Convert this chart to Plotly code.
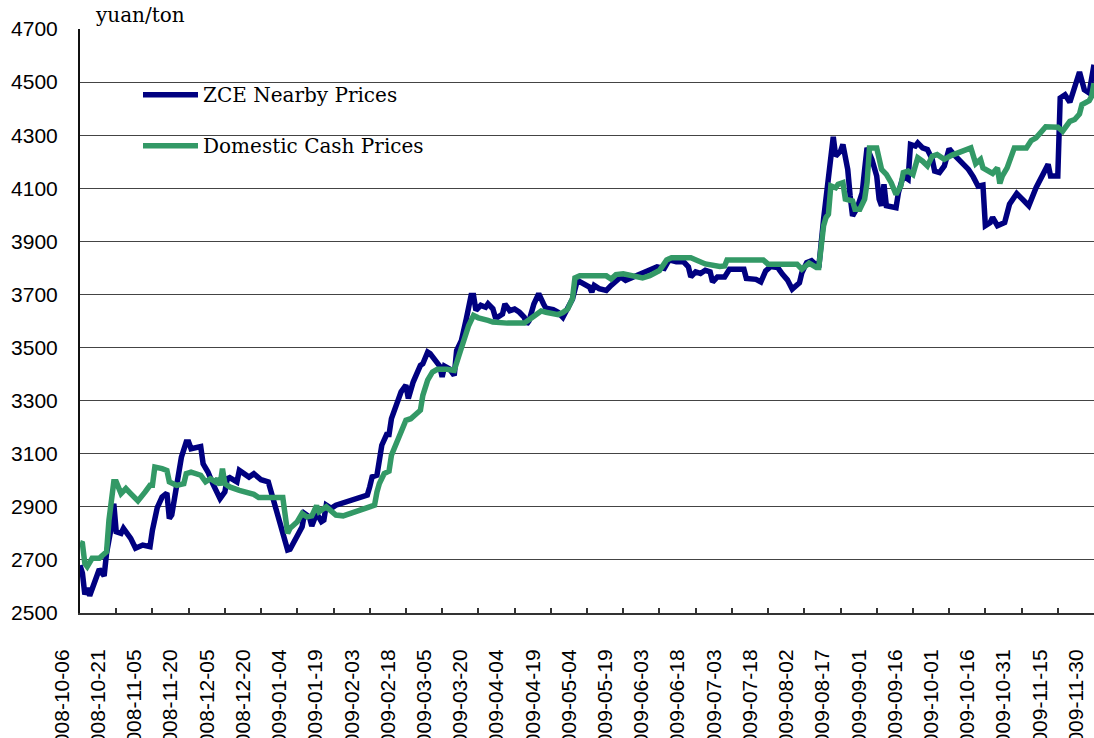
import plotly.graph_objects as go

# ZCE nearby prices (yuan/ton)
zce_dates = [
    "2008-10-06","2008-10-07","2008-10-08","2008-10-09","2008-10-10","2008-10-13","2008-10-14","2008-10-16",
    "2008-10-17","2008-10-19","2008-10-20","2008-10-21","2008-10-23","2008-10-24","2008-10-27","2008-10-29",
    "2008-11-01","2008-11-04","2008-11-05","2008-11-07","2008-11-09","2008-11-11","2008-11-12","2008-11-13",
    "2008-11-15","2008-11-17","2008-11-19","2008-11-20","2008-11-21","2008-11-25","2008-11-26","2008-11-28",
    "2008-11-30","2008-12-02","2008-12-03","2008-12-05","2008-12-06","2008-12-07","2008-12-10","2008-12-11",
    "2008-12-13","2008-12-15","2008-12-17","2008-12-20","2008-12-23","2008-12-24","2008-12-25","2008-12-27",
    "2008-12-29","2008-12-31","2009-01-01","2009-01-03","2009-01-06","2009-01-07","2009-01-09","2009-01-10",
    "2009-01-12","2009-01-14","2009-01-15","2009-01-16","2009-01-18","2009-01-20","2009-01-22","2009-01-23",
    "2009-02-02","2009-02-03","2009-02-04","2009-02-06","2009-02-07","2009-02-08","2009-02-10","2009-02-11",
    "2009-02-12","2009-02-14","2009-02-16","2009-02-18","2009-02-19","2009-02-21","2009-02-24","2009-02-25",
    "2009-02-27","2009-02-28","2009-03-02","2009-03-04","2009-03-05","2009-03-06","2009-03-08","2009-03-10",
    "2009-03-11","2009-03-13","2009-03-15","2009-03-17","2009-03-18","2009-03-19","2009-03-21","2009-03-23",
    "2009-03-24","2009-03-26","2009-03-27","2009-03-28","2009-03-30","2009-03-31","2009-04-02","2009-04-04",
    "2009-04-06","2009-04-08","2009-04-09","2009-04-10","2009-04-12","2009-04-14","2009-04-16","2009-04-17",
    "2009-04-20","2009-04-22","2009-04-24","2009-04-26","2009-04-28","2009-04-30","2009-05-03","2009-05-05",
    "2009-05-06","2009-05-07","2009-05-09","2009-05-12","2009-05-14","2009-05-16","2009-05-18","2009-05-20",
    "2009-05-23","2009-05-27","2009-05-30","2009-06-02","2009-06-05","2009-06-07","2009-06-10","2009-06-13",
    "2009-06-15","2009-06-16","2009-06-18","2009-06-20","2009-06-22","2009-06-24","2009-06-25","2009-06-27",
    "2009-06-30","2009-07-02","2009-07-05","2009-07-08","2009-07-09","2009-07-13","2009-07-15","2009-07-17",
    "2009-07-19","2009-07-22","2009-07-24","2009-07-26","2009-07-28","2009-07-31","2009-08-01","2009-08-03",
    "2009-08-05","2009-08-08","2009-08-10","2009-08-12","2009-08-14","2009-08-15","2009-08-17","2009-08-18",
    "2009-08-20","2009-08-21","2009-08-22","2009-08-24","2009-08-26","2009-08-27","2009-08-28","2009-08-30",
    "2009-09-01","2009-09-02","2009-09-03","2009-09-04","2009-09-05","2009-09-09","2009-09-10","2009-09-12",
    "2009-09-14","2009-09-15","2009-09-17","2009-09-18","2009-09-20","2009-09-22","2009-09-24","2009-09-25",
    "2009-09-27","2009-09-29","2009-10-01","2009-10-03","2009-10-06","2009-10-09","2009-10-11","2009-10-13",
    "2009-10-15","2009-10-16","2009-10-18","2009-10-19","2009-10-21","2009-10-24","2009-10-26","2009-10-29",
    "2009-10-31","2009-11-03","2009-11-06","2009-11-08","2009-11-11","2009-11-12","2009-11-15","2009-11-16",
    "2009-11-18","2009-11-20","2009-11-22","2009-11-24","2009-11-26","2009-11-28","2009-11-30",
]
zce_prices = [
    2680, 2650, 2570, 2594, 2565, 2637, 2665, 2640,
    2725, 2825, 2912, 2806, 2800, 2819, 2781, 2744,
    2756, 2750, 2812, 2897, 2937, 2952, 2856, 2869,
    2975, 3087, 3144, 3144, 3119, 3127, 3062, 3031,
    2987, 2944, 2931, 2956, 3006, 3010, 2994, 3037,
    3027, 3012, 3025, 3002, 2994, 2962, 2912, 2850,
    2787, 2737, 2740, 2775, 2825, 2875, 2862, 2828,
    2875, 2844, 2850, 2906, 2894, 2906, 2912, 2919,
    2944, 2975, 3013, 3019, 3094, 3132, 3172, 3172,
    3232, 3285, 3333, 3358, 3308, 3370, 3433, 3439,
    3483, 3477, 3452, 3430, 3389, 3430, 3420, 3395,
    3489, 3527, 3608, 3696, 3696, 3640, 3659, 3652,
    3665, 3646, 3615, 3614, 3626, 3664, 3639, 3645,
    3633, 3614, 3588, 3601, 3664, 3703, 3664, 3648,
    3643, 3633, 3614, 3645, 3683, 3753, 3741, 3728,
    3709, 3734, 3722, 3715, 3734, 3747, 3766, 3753,
    3766, 3779, 3791, 3804, 3798, 3830, 3823, 3823,
    3804, 3766, 3785, 3779, 3791, 3785, 3747, 3766,
    3766, 3795, 3795, 3795, 3760, 3757, 3747, 3789,
    3805, 3801, 3776, 3755, 3720, 3744, 3782, 3820,
    3827, 3802, 3984, 4146, 4294, 4221, 4240, 4265,
    4171, 4071, 3996, 4027, 4084, 4171, 4252, 4209,
    4146, 4059, 4034, 4115, 4034, 4027, 4084, 4146,
    4134, 4265, 4259, 4271, 4252, 4246, 4209, 4165,
    4159, 4184, 4249, 4227, 4202, 4171, 4143, 4108,
    4112, 3959, 3971, 3990, 3959, 3971, 4040, 4080,
    4062, 4034, 4102, 4134, 4190, 4146, 4146, 4440,
    4452, 4424, 4484, 4538, 4471, 4459, 4565,
]

# Domestic cash prices (yuan/ton)
cash_dates = [
    "2008-10-06","2008-10-07","2008-10-08","2008-10-09","2008-10-11","2008-10-14","2008-10-17","2008-10-18",
    "2008-10-20","2008-10-21","2008-10-23","2008-10-25","2008-10-27","2008-10-30","2008-11-02","2008-11-04",
    "2008-11-05","2008-11-06","2008-11-09","2008-11-11","2008-11-12","2008-11-15","2008-11-18","2008-11-19",
    "2008-11-21","2008-11-25","2008-11-27","2008-11-29","2008-12-01","2008-12-02","2008-12-03","2008-12-04",
    "2008-12-05","2008-12-07","2008-12-11","2008-12-14","2008-12-17","2008-12-19","2008-12-29","2008-12-31",
    "2009-01-01","2009-01-04","2009-01-06","2009-01-08","2009-01-10","2009-01-12","2009-01-13","2009-01-16",
    "2009-01-18","2009-01-20","2009-01-23","2009-02-03","2009-02-05","2009-02-06","2009-02-07","2009-02-09",
    "2009-02-11","2009-02-12","2009-02-14","2009-02-16","2009-02-18","2009-02-20","2009-02-22","2009-02-24",
    "2009-02-25","2009-02-27","2009-03-01","2009-03-03","2009-03-07","2009-03-10","2009-03-12","2009-03-14",
    "2009-03-16","2009-03-18","2009-03-20","2009-03-24","2009-03-26","2009-04-01","2009-04-08","2009-04-10",
    "2009-04-15","2009-04-17","2009-04-22","2009-04-24","2009-04-26","2009-04-28","2009-04-29","2009-05-01",
    "2009-05-12","2009-05-14","2009-05-16","2009-05-19","2009-05-23","2009-05-27","2009-05-30","2009-06-03",
    "2009-06-06","2009-06-08","2009-06-16","2009-06-19","2009-06-22","2009-06-28","2009-06-30","2009-07-01",
    "2009-07-16","2009-07-18","2009-07-30","2009-08-01","2009-08-04","2009-08-07","2009-08-08","2009-08-10",
    "2009-08-11","2009-08-12","2009-08-13","2009-08-15","2009-08-16","2009-08-18","2009-08-19","2009-08-22",
    "2009-08-23","2009-08-25","2009-08-27","2009-08-28","2009-08-29","2009-09-01","2009-09-03","2009-09-05",
    "2009-09-07","2009-09-09","2009-09-11","2009-09-12","2009-09-14","2009-09-16","2009-09-18","2009-09-20",
    "2009-09-22","2009-09-24","2009-09-26","2009-09-29","2009-10-02","2009-10-10","2009-10-12","2009-10-14",
    "2009-10-15","2009-10-19","2009-10-21","2009-10-22","2009-10-23","2009-10-25","2009-10-28","2009-11-02",
    "2009-11-04","2009-11-06","2009-11-10","2009-11-15","2009-11-17","2009-11-20","2009-11-22","2009-11-24",
    "2009-11-25","2009-11-28","2009-11-29","2009-11-30",
]
cash_prices = [
    2765, 2762, 2687, 2675, 2706, 2706, 2731, 2850,
    2994, 2994, 2950, 2969, 2950, 2922, 2956, 2981,
    2981, 3050, 3044, 3037, 2994, 2981, 2987, 3025,
    3031, 3019, 2994, 3006, 2994, 3006, 2981, 3044,
    2987, 2975, 2962, 2956, 2947, 2935, 2935, 2800,
    2819, 2844, 2875, 2862, 2866, 2904, 2881, 2900,
    2884, 2869, 2866, 2896, 2906, 2956, 2988, 3025,
    3034, 3094, 3138, 3176, 3226, 3232, 3245, 3264,
    3320, 3377, 3408, 3418, 3418, 3414, 3471, 3533,
    3583, 3621, 3612, 3602, 3596, 3592, 3592, 3605,
    3638, 3633, 3624, 3632, 3645, 3685, 3762, 3770,
    3770, 3758, 3775, 3778, 3770, 3762, 3771, 3790,
    3830, 3838, 3838, 3828, 3815, 3805, 3807, 3830,
    3830, 3814, 3814, 3795, 3818, 3802, 3802, 3959,
    3990, 4002, 4109, 4102, 4115, 4121, 4059, 4052,
    4021, 4021, 4059, 4121, 4252, 4252, 4171, 4152,
    4121, 4077, 4109, 4159, 4165, 4152, 4215, 4202,
    4184, 4221, 4227, 4209, 4224, 4252, 4193, 4209,
    4177, 4156, 4177, 4118, 4146, 4177, 4252, 4252,
    4280, 4290, 4332, 4330, 4315, 4352, 4359, 4380,
    4415, 4430, 4446, 4496,
]

series_names = ["ZCE Nearby Prices", "Domestic Cash Prices"]
series_colors = ["#000080", "#339966"]
unit_label = "yuan/ton"
y_ticks = [2500, 2700, 2900, 3100, 3300, 3500, 3700, 3900, 4100, 4300, 4500, 4700]

fig = go.Figure()
fig.add_trace(go.Scatter(x=zce_dates, y=zce_prices, mode="lines", name=series_names[0],
                         legendgroup="a", line=dict(color=series_colors[0], width=5.5)))
fig.add_trace(go.Scatter(x=cash_dates, y=cash_prices, mode="lines", name=series_names[1],
                         legendgroup="b", line=dict(color=series_colors[1], width=5.5)))

fig.update_layout(
    width=1094, height=738,
    margin=dict(l=80, r=0, t=29, b=125, autoexpand=False),
    paper_bgcolor="white", plot_bgcolor="white",
    showlegend=True,
    legend=dict(x=0.0572, y=0.921, xanchor="left", yanchor="top",
                font=dict(family="DejaVu Serif", size=20, color="black"),
                bgcolor="rgba(0,0,0,0)", itemwidth=55, tracegroupgap=22,
                traceorder="grouped"),
    annotations=[dict(text=unit_label, xref="paper", yref="paper", x=0.013, y=1.0,
                      xanchor="left", yanchor="bottom", showarrow=False, yshift=0,
                      font=dict(family="DejaVu Serif", size=20, color="black"))],
)
fig.update_xaxes(
    type="date", range=["2008-10-06", "2009-11-30"], automargin=False,
    tick0="2008-10-06", dtick=15 * 86400000, tickformat="%Y-%m-%d",
    tickangle=-90, ticks="inside", ticklen=5, tickcolor="#333", tickwidth=1.5,
    ticklabelshift=-18, ticklabelstandoff=26,
    showline=True, linecolor="#333", linewidth=2, showgrid=False, zeroline=False,
    tickfont=dict(family="Liberation Sans", size=21, color="black"),
)
fig.update_yaxes(
    range=[2500, 4700], tickvals=y_ticks, ticks="", automargin=False,
    showline=True, linecolor="#111", linewidth=2,
    showgrid=True, gridcolor="#444", gridwidth=1, zeroline=False,
    ticklabelstandoff=16,
    tickfont=dict(family="Liberation Sans", size=21, color="black"),
)
# remove the default page margin so the figure fills the window exactly
fig.write_html("out.html", config={"displayModeBar": False},
               post_script="document.body.style.margin='0';document.body.style.overflow='hidden';")
